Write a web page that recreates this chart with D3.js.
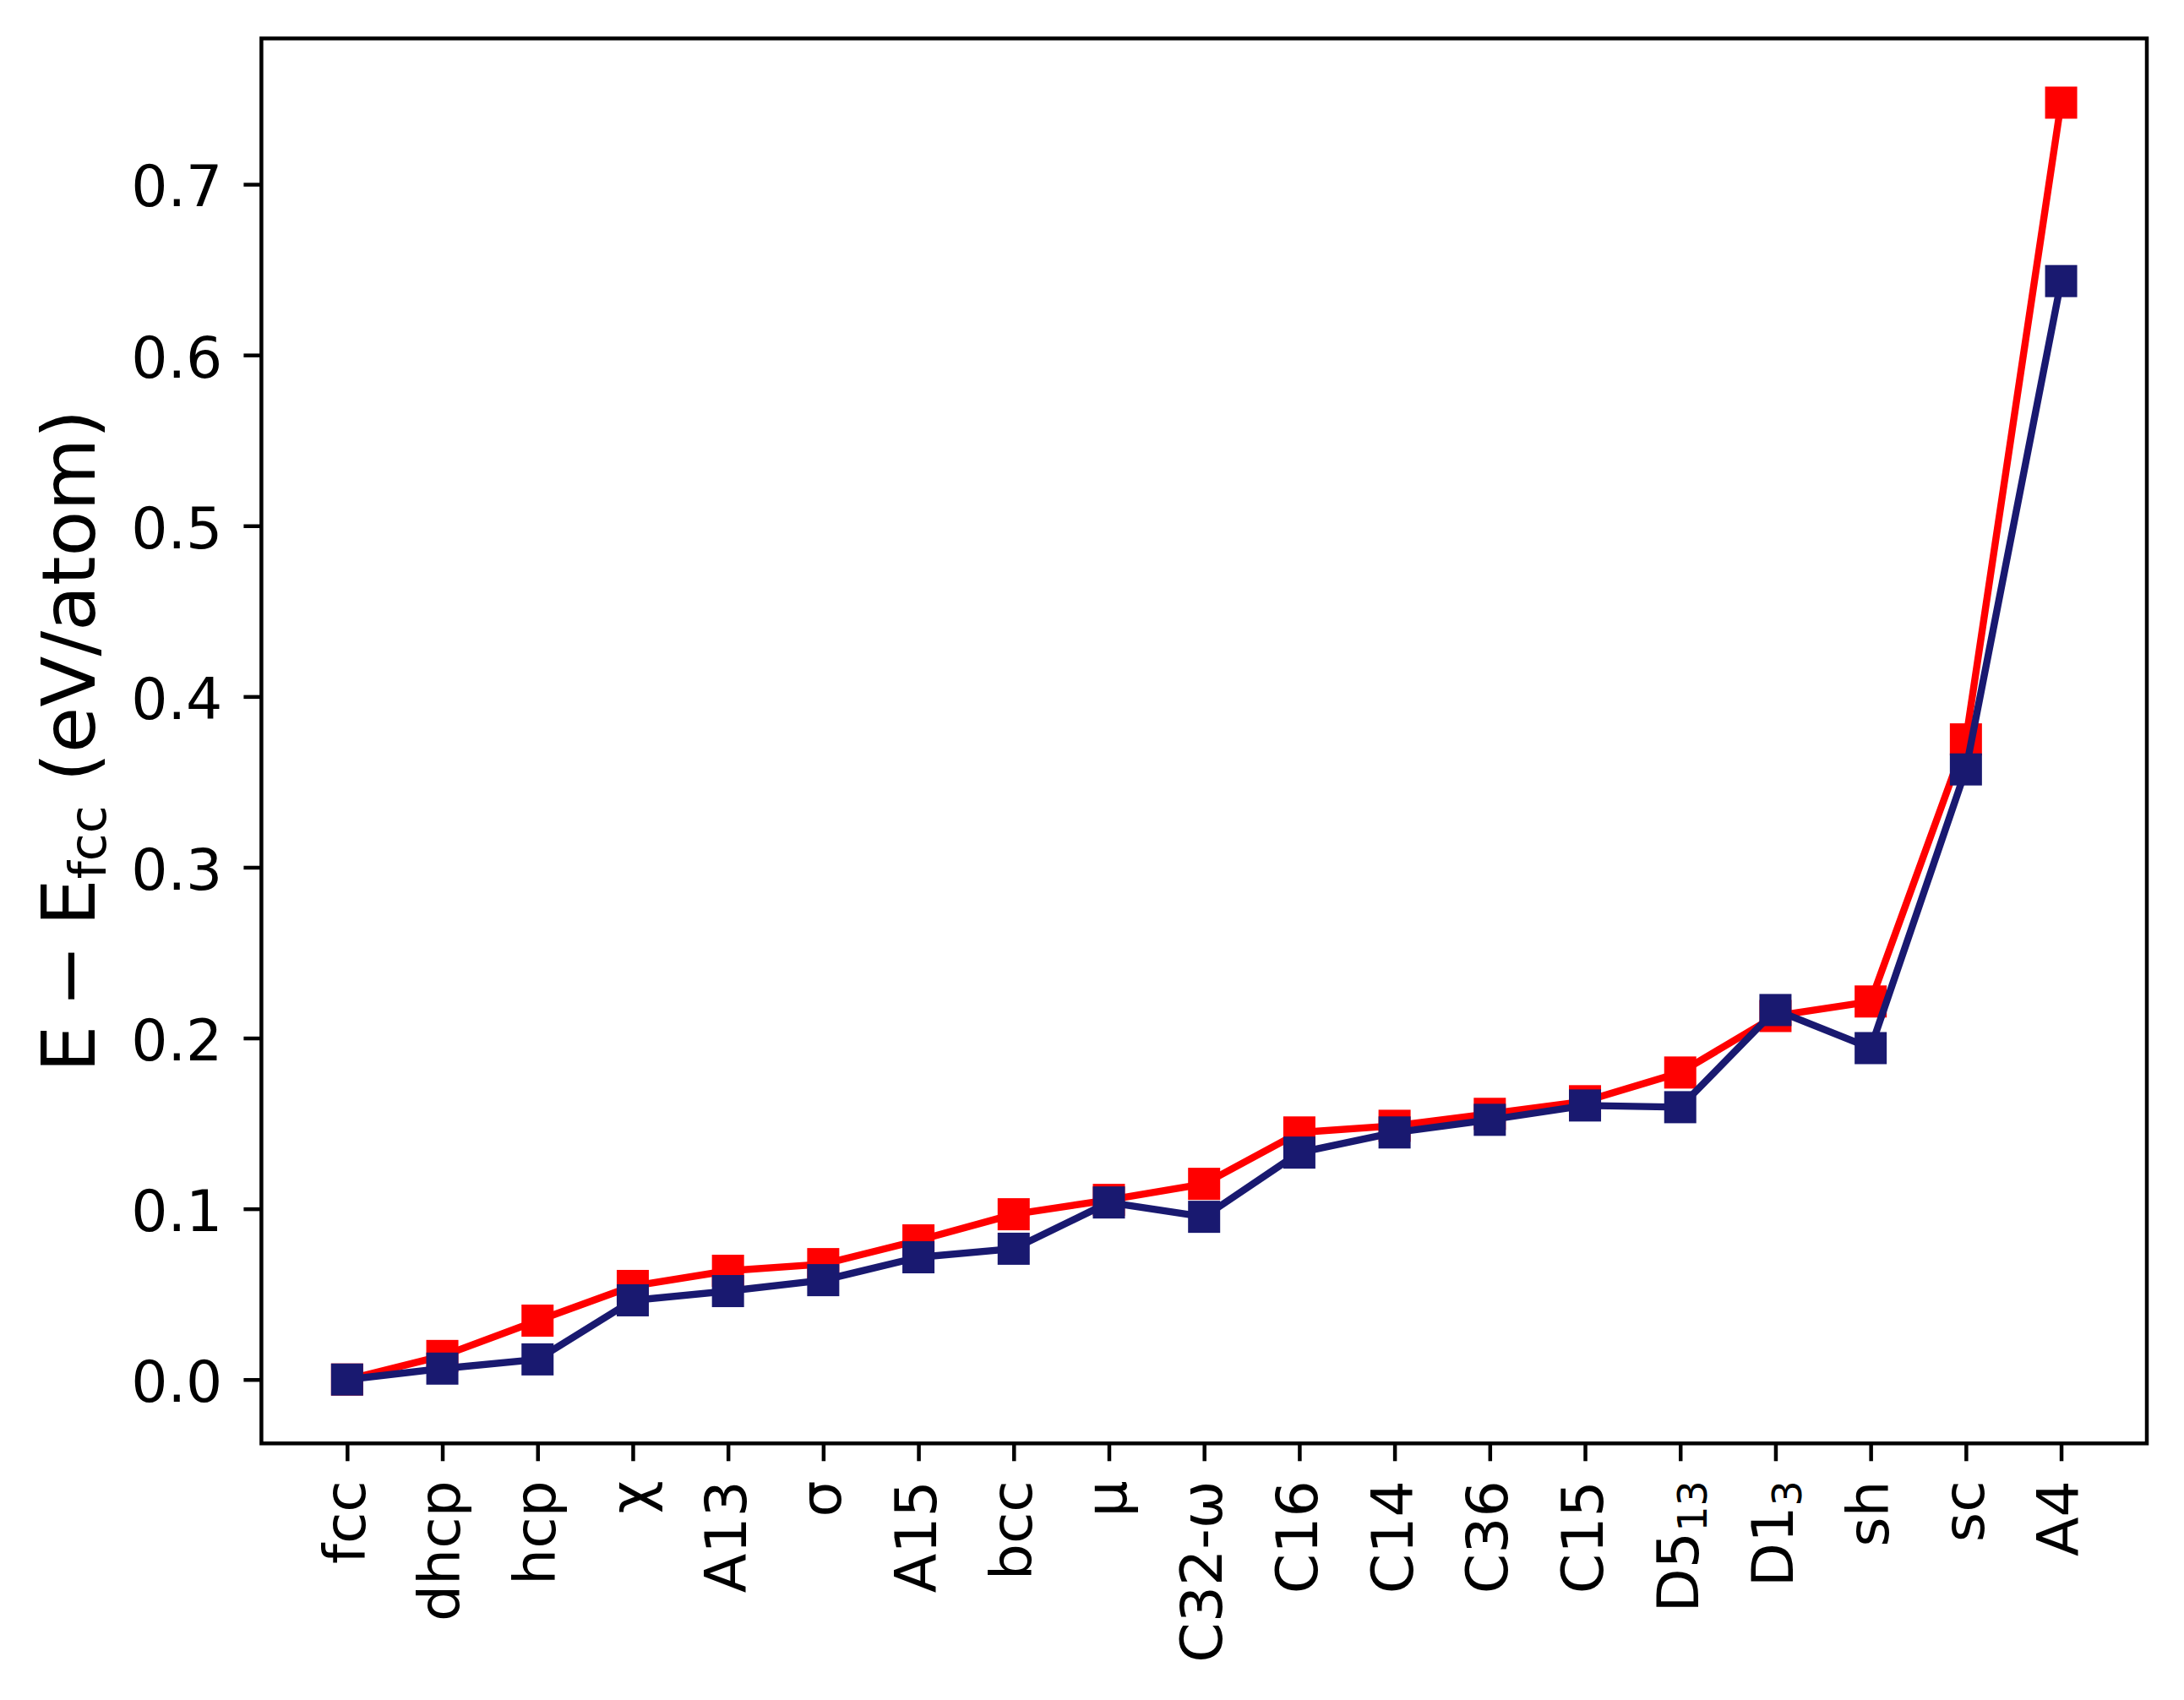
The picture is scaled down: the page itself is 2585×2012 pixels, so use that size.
<!DOCTYPE html>
<html><head><meta charset="utf-8">
<script src="https://cdn.jsdelivr.net/npm/d3@7"></script>
<style>
body{margin:0;background:#fff}
text{font-family:"DejaVu Sans",sans-serif;white-space:pre}
</style>
</head><body>
<svg id="c" width="2585" height="2012" xmlns="http://www.w3.org/2000/svg"></svg>
<script>
// ---- data ----
const categories = ["fcc","dhcp","hcp","χ","A13","σ","A15","bcc","μ","C32-ω","C16","C14","C36","C15","D5_13","D1_3","sh","sc","A4"];
const seriesRed  = [0.000,0.0138,0.0345,0.0548,0.0637,0.0676,0.0815,0.0968,0.1052,0.1146,0.1447,0.1486,0.1556,0.1630,0.1798,0.2129,0.2214,0.3749,0.7478];
const seriesNavy = [0.000,0.0064,0.0118,0.0464,0.0518,0.0582,0.0716,0.0766,0.1037,0.0953,0.1329,0.1447,0.1521,0.1605,0.1595,0.2164,0.1941,0.3573,0.6433];
const yTickValues = [0.0,0.1,0.2,0.3,0.4,0.5,0.6,0.7];
const yLabelMain = "E\u2005−\u2005E";
const yLabelSub = "fcc";
const yLabelTail = " (eV/atom)";

// ---- layout ----
const L = 309.4, R = 2541, T = 45.5, B = 1708.3;
const svg = d3.select("#c");
svg.append("rect").attr("width",2585).attr("height",2012).attr("fill","#fff");

const x = d3.scaleLinear().domain([-0.9, categories.length - 1 + 0.9]).range([L, R]);
const y = d3.scaleLinear().domain([-0.0374, 0.7854]).range([B, T]);

const FS = 68, TICK = 21, TW = 4.5;

// y axis
const gy = svg.append("g").attr("transform", `translate(${L},0)`)
  .call(d3.axisLeft(y).tickValues(yTickValues).tickFormat(d3.format(".1f"))
        .tickSize(TICK).tickPadding(25));
gy.select(".domain").remove();
gy.selectAll(".tick line").attr("stroke","#000").attr("stroke-width",TW);
gy.selectAll(".tick text").attr("font-size",FS).attr("fill","#000")
  .attr("font-family","DejaVu Sans").attr("dy","0.38em");

// x axis
const gx = svg.append("g").attr("transform", `translate(0,${B})`)
  .call(d3.axisBottom(x).tickValues(d3.range(categories.length)).tickFormat("").tickSize(TICK));
gx.select(".domain").remove();
gx.selectAll(".tick line").attr("stroke","#000").attr("stroke-width",TW);
gx.selectAll(".tick text").remove();
gx.selectAll(".tick").each(function(d){
  const lab = categories[d];
  const t = d3.select(this).append("text")
    .attr("transform", `translate(0,${TICK + 23}) rotate(-90)`)
    .attr("text-anchor","end").attr("font-size",FS).attr("fill","#000")
    .attr("font-family","DejaVu Sans").attr("dy","0.30em");
  const parts = lab.split("_");
  t.append("tspan").text(parts[0]);
  if (parts.length > 1) {
    t.append("tspan").attr("font-size", FS*0.7).attr("dy", 10).text(parts[1]);
  }
});

// lines + markers
const line = d3.line().x((d,i)=>x(i)).y(d=>y(d)).curve(d3.curveLinear);
const MS = 38;
function drawSeries(vals, color){
  svg.append("path").datum(vals).attr("d", line).attr("fill","none")
    .attr("stroke", color).attr("stroke-width", 8.4).attr("stroke-linejoin","round");
  svg.append("g").selectAll("rect").data(vals).join("rect")
    .attr("x",(d,i)=>x(i)-MS/2).attr("y",d=>y(d)-MS/2)
    .attr("width",MS).attr("height",MS).attr("fill",color);
}
drawSeries(seriesRed, "#ff0000");
drawSeries(seriesNavy, "#191970");

// frame
svg.append("rect").attr("x",L).attr("y",T).attr("width",R-L).attr("height",B-T)
  .attr("fill","none").attr("stroke","#000").attr("stroke-width",TW);

// y label
const yl = svg.append("text")
  .attr("transform", `translate(112,${(T+B)/2}) rotate(-90)`)
  .attr("text-anchor","middle").attr("font-size",88).attr("fill","#000")
  .attr("font-family","DejaVu Sans");
yl.append("tspan").text(yLabelMain);
yl.append("tspan").attr("font-size",60).attr("dy",13).text(yLabelSub);
yl.append("tspan").attr("dy",-13).text(yLabelTail);
</script>
</body></html>
